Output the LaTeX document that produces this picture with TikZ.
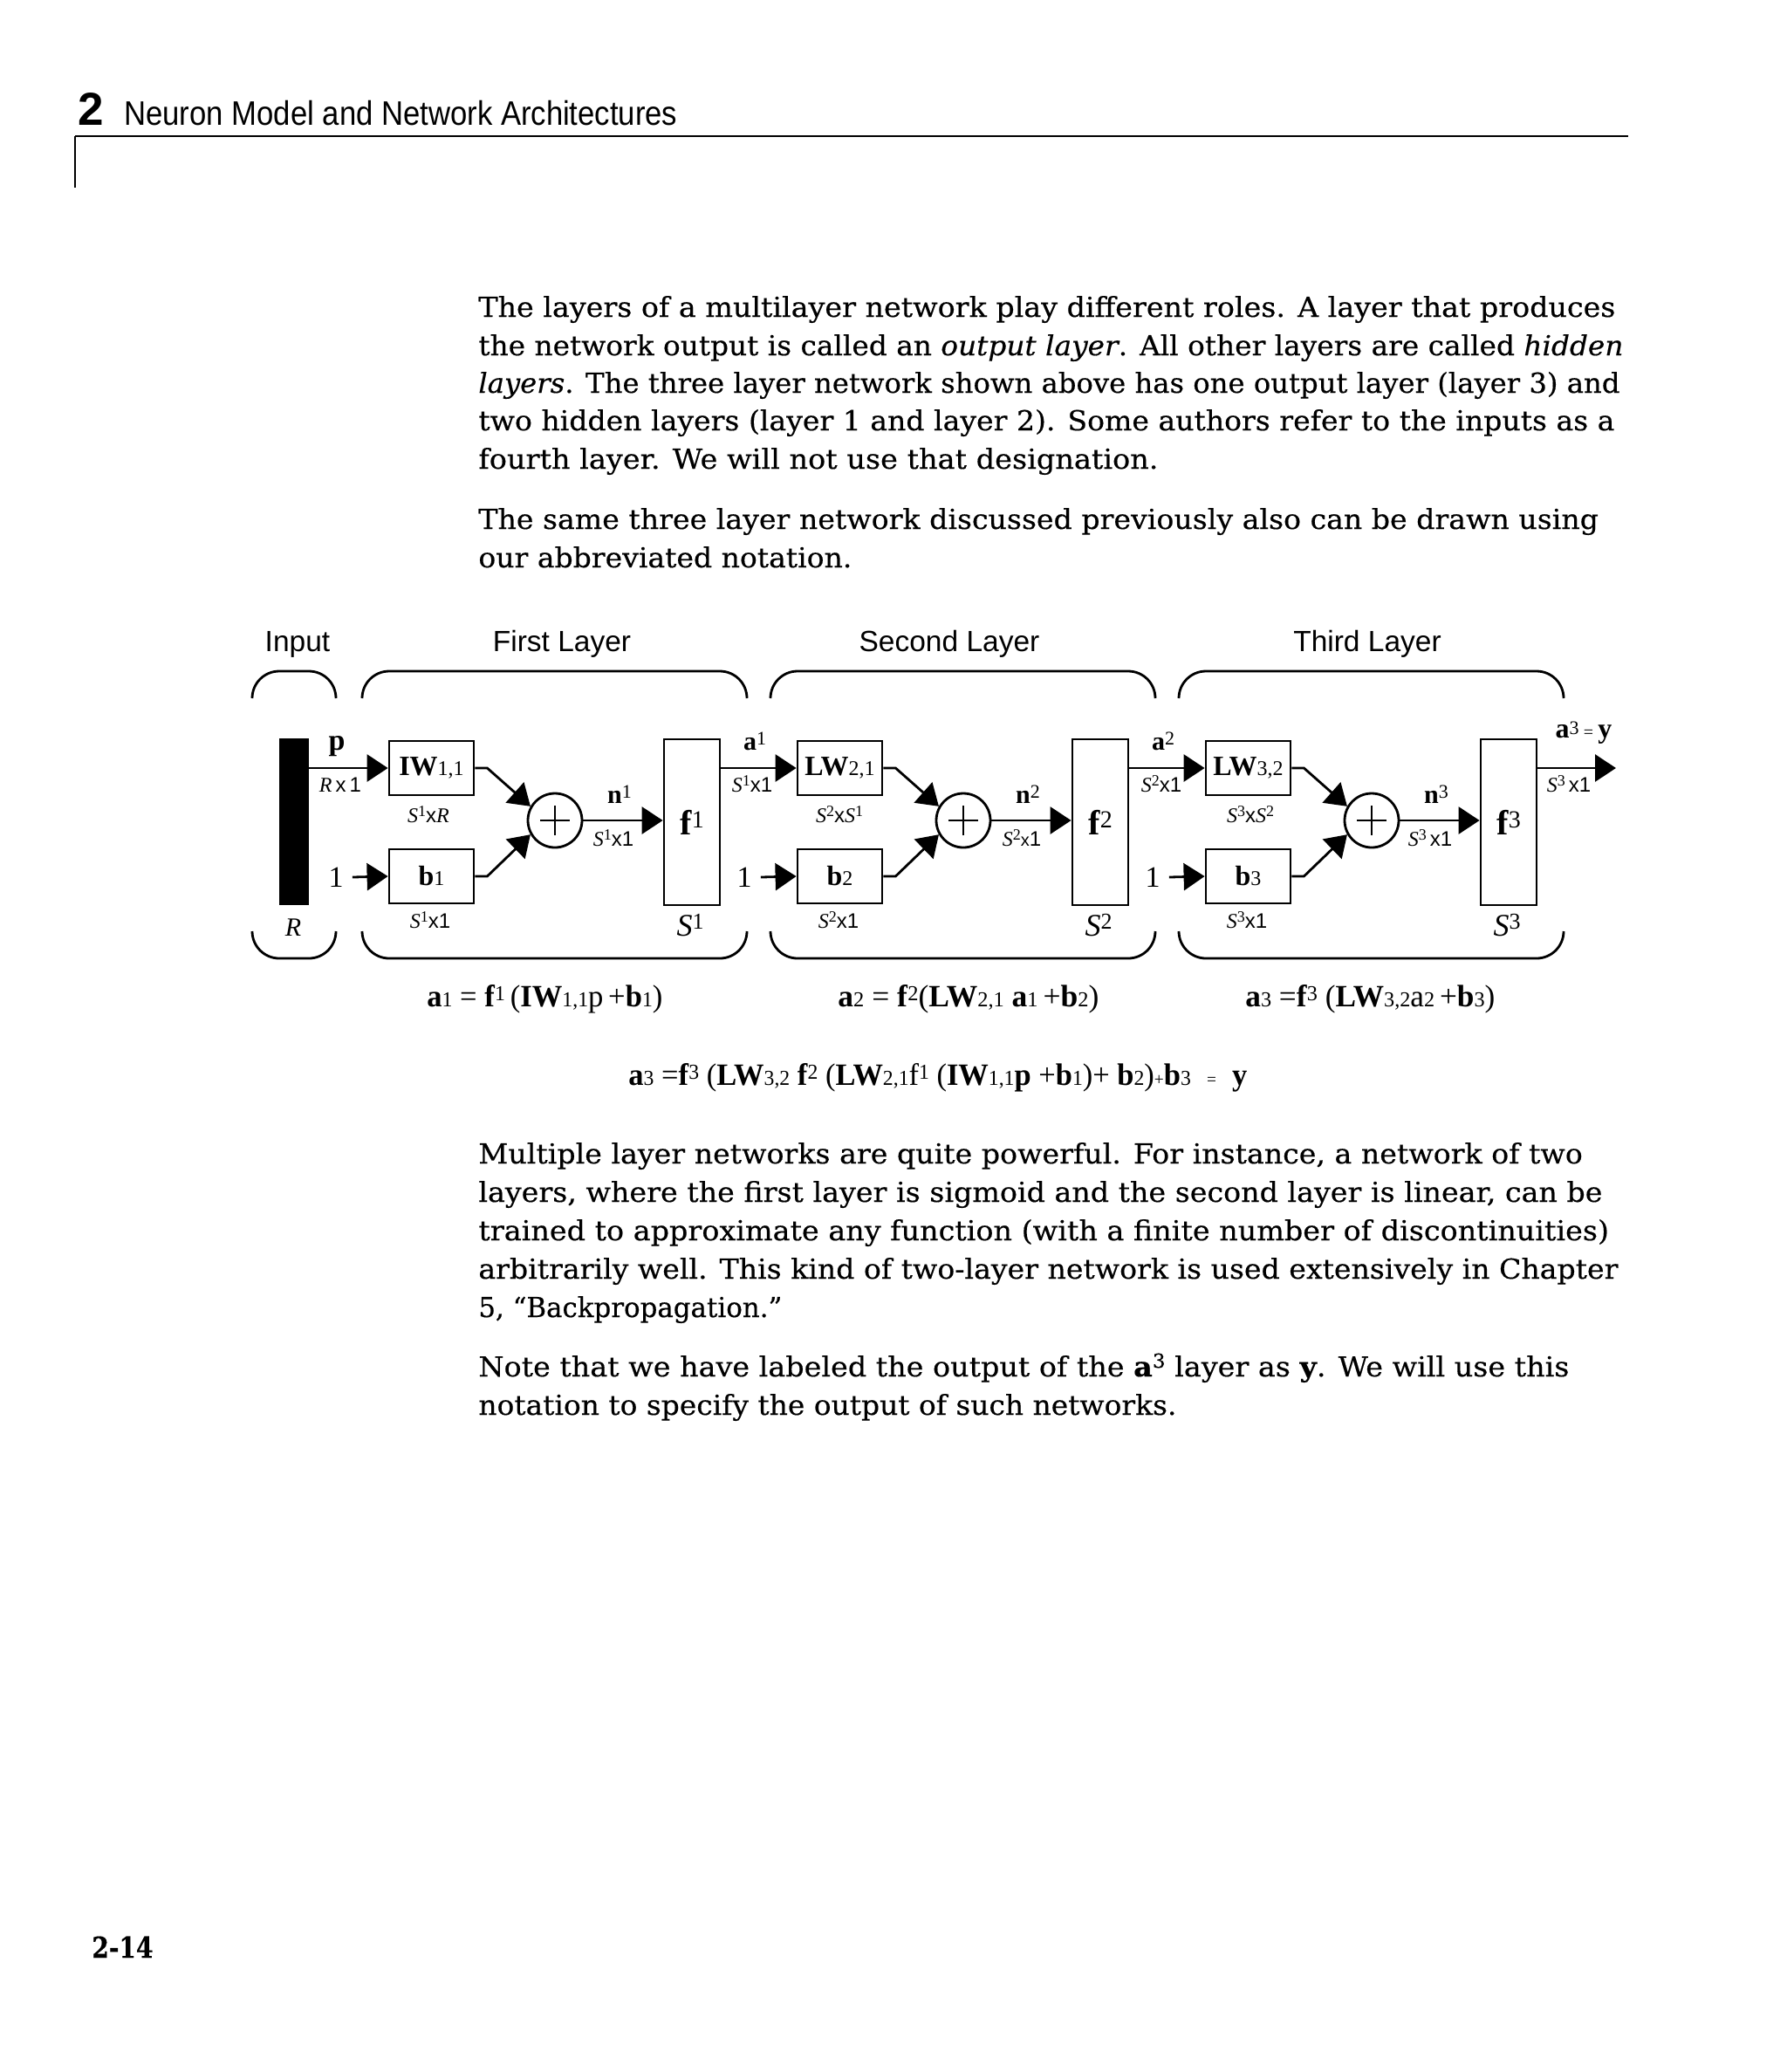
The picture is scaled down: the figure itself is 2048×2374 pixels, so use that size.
\documentclass[tikz,border=0pt]{standalone}
\usepackage{fontspec}
\usepackage{graphicx}
\setmainfont{DejaVu Serif}[FakeStretch=1.05,FakeBold=0.4]
\newfontfamily\arial{Liberation Sans}
\newfontfamily\tms{Liberation Serif}
\usetikzlibrary{arrows.meta}
\newcommand\fsz[1]{\fontsize{#1}{#1}\selectfont}
\newcommand\tb[1]{\textbf{#1}}
\newcommand\sps[1]{\raisebox{3.5pt}{\fsz{9pt}#1}}
\newcommand\ax{{\arial x}}
\newcommand\aone{{\arial 1}}
\newcommand\lw[2]{\resizebox{#1}{\height}{#2}}
\begin{document}
\begin{tikzpicture}[x=0.5pt,y=-0.5pt,
  ln/.style={line width=1.4pt},
  arr/.style={line width=1.4pt,-{Triangle[length=12pt,width=15.5pt]}},
  box/.style={draw,line width=1.4pt,minimum width=48.5pt,minimum height=31pt,inner sep=0pt},
  fbox/.style={draw,line width=1.4pt,minimum width=32pt,minimum height=95pt,inner sep=0pt},
  sumc/.style={draw,circle,line width=1.4pt,minimum size=31pt,inner sep=0pt},
  brk/.style={line width=1.4pt,rounded corners=15.5pt},
  lbl/.style={inner sep=0pt,anchor=base},
  body/.style={inner sep=0pt,anchor=base west,font={\fsz{15.75pt}}},
  ttl/.style={inner sep=0pt,anchor=base,font={\arial\fsz{16.75pt}}},
  dim/.style={inner sep=0pt,anchor=base,font={\tms\fsz{12pt}}},
]
\path[use as bounding box,fill=white] (0,0) rectangle (2048,2374);

% header
\draw[line width=1pt] (86,156) -- (1866,156);
\draw[line width=1pt] (86,156) -- (86,215);
\node[inner sep=0pt,anchor=base west] (chap) at (89,143) {\arial\bfseries\fsz{26.5pt}2};
\node[inner sep=0pt,anchor=base west] (title) at (142,143) {\resizebox{317pt}{\height}{\arial\fsz{19.5pt}Neuron Model and Network Architectures}};

% body text
\node[body] (t1) at (548,363) {\lw{651.5pt}{The layers of a multilayer network play different roles. A layer that produces}};
\node[body] (t2) at (548,407) {\lw{656pt}{the network output is called an \textit{output layer}. All other layers are called \textit{hidden}}};
\node[body] (t3) at (548,450) {\lw{654pt}{\textit{layers}. The three layer network shown above has one output layer (layer 3) and}};
\node[body] (t4) at (548,493) {\lw{651pt}{two hidden layers (layer 1 and layer 2). Some authors refer to the inputs as a}};
\node[body] (t5) at (548,537) {\lw{389.5pt}{fourth layer. We will not use that designation.}};
\node[body] (t6) at (548,606) {\lw{641.8pt}{The same three layer network discussed previously also can be drawn using}};
\node[body] (t7) at (548,650) {\lw{214pt}{our abbreviated notation.}};
\node[body] (t8) at (548,1333) {\lw{632.7pt}{Multiple layer networks are quite powerful. For instance, a network of two}};
\node[body] (t9) at (548,1377) {\lw{644pt}{layers, where the first layer is sigmoid and the second layer is linear, can be}};
\node[body] (t10) at (548,1421) {\lw{647.8pt}{trained to approximate any function (with a finite number of discontinuities)}};
\node[body] (t11) at (548,1465) {\lw{653pt}{arbitrarily well. This kind of two-layer network is used extensively in Chapter}};
\node[body] (t12) at (548,1509) {\lw{174pt}{5, “Backpropagation.”}};
\node[body] (t13) at (548,1577) {\lw{625pt}{Note that we have labeled the output of the \textbf{a}\raisebox{5pt}{\fsz{11pt}3} layer as \textbf{y}. We will use this}};
\node[body] (t14) at (548,1621) {\lw{400pt}{notation to specify the output of such networks.}};

% page number
\node[inner sep=0pt,anchor=base west] (pg) at (105,2243) {\resizebox{35pt}{\height}{\bfseries\fsz{16.5pt}2-14}};

% titles
\node[ttl] (tin) at (341,746) {Input};
\node[ttl] (tl1) at (644,746) {First Layer};
\node[ttl] (tl2) at (1088,746) {Second Layer};
\node[ttl] (tl3) at (1567,746) {Third Layer};

% brackets
\draw[brk] (289,800) -- (289,769) -- (385,769) -- (385,800);
\draw[brk] (289,1067) -- (289,1098) -- (385,1098) -- (385,1067);
\foreach \d in {0,468,936} {
  \draw[brk] (415+\d,800) -- (415+\d,769) -- (856+\d,769) -- (856+\d,800);
  \draw[brk] (415+\d,1067) -- (415+\d,1098) -- (856+\d,1098) -- (856+\d,1067);
}

% input bar
\node[fill=black,minimum width=17pt,minimum height=95.5pt,inner sep=0pt] (bar) at (337,941.5) {};
\node[lbl,font={\tms\fsz{15pt}\itshape}] (rlab) at (336,1072) {R};

% layer 1
\node[box] (w1) at (494.5,880) {\tms\fsz{16pt}\tb{IW}{\fsz{12pt}1,1}};
\node[box] (b1) at (494.5,1004) {\tms\fsz{16pt}\tb{b}{\fsz{12pt}1}};
\node[sumc] (s1) at (636,940) {};
\node[fbox] (f1) at (793,942) {\tms\fsz{20pt}\tb{f}\raisebox{4pt}{\fsz{14pt}1}};
\node[inner sep=5pt,font={\tms\fsz{17pt}}] (one1) at (385,1005) {1};

% layer 2
\node[box] (w2) at (962.5,880) {\tms\fsz{16pt}\tb{LW}{\fsz{12pt}2,1}};
\node[box] (b2) at (962.5,1004) {\tms\fsz{16pt}\tb{b}{\fsz{12pt}2}};
\node[sumc] (s2) at (1104,940) {};
\node[fbox] (f2) at (1261,942) {\tms\fsz{20pt}\tb{f}\raisebox{4pt}{\fsz{14pt}2}};
\node[inner sep=5pt,font={\tms\fsz{17pt}}] (one2) at (853,1005) {1};

% layer 3
\node[box] (w3) at (1430.5,880) {\tms\fsz{16pt}\tb{LW}{\fsz{12pt}3,2}};
\node[box] (b3) at (1430.5,1004) {\tms\fsz{16pt}\tb{b}{\fsz{12pt}3}};
\node[sumc] (s3) at (1572,940) {};
\node[fbox] (f3) at (1729,942) {\tms\fsz{20pt}\tb{f}\raisebox{4pt}{\fsz{14pt}3}};
\node[inner sep=5pt,font={\tms\fsz{17pt}}] (one3) at (1321,1005) {1};
\coordinate (out) at (1852,880);

% plus signs
\foreach \k in {1,2,3} {
  \draw[line width=1.4pt] ([xshift=-8.5pt]s\k.center) -- ([xshift=8.5pt]s\k.center);
  \draw[line width=1.4pt] ([yshift=-8.5pt]s\k.center) -- ([yshift=8.5pt]s\k.center);
}

% connectors
\draw[arr] (bar.east |- w1.west) -- (w1.west);
\draw[arr] (f1.east |- w2.west) -- (w2.west);
\draw[arr] (f2.east |- w3.west) -- (w3.west);
\draw[arr] (f3.east |- out) -- (out);
\foreach \k in {1,2,3} {
  \draw[arr] (one\k.east) -- (b\k.west);
  \draw[arr] (w\k.east) -- ++(14,0) -- (s\k.150);
  \draw[arr] (b\k.east) -- ++(14,0) -- (s\k.210);
  \draw[arr] (s\k.east) -- (f\k.west |- s\k.east);
}

% signal labels
\node[lbl,font={\tms\fsz{17pt}}] (lp) at (386,859) {\tb{p}};
\node[lbl,font={\tms\fsz{15pt}}] (la1) at (865,859) {\tb{a}\raisebox{3pt}{\fsz{11pt}1}};
\node[lbl,font={\tms\fsz{15pt}}] (la2) at (1333,859) {\tb{a}\raisebox{3pt}{\fsz{11pt}2}};
\node[lbl,font={\tms\fsz{16pt}}] (la3) at (1815,845) {\tb{a}\raisebox{2pt}{\fsz{11pt}3}\,{\fsz{10pt}=}\,\tb{y}};
\node[lbl,font={\tms\fsz{15pt}}] (ln1) at (710,920) {\tb{n}\raisebox{3pt}{\fsz{11pt}1}};
\node[lbl,font={\tms\fsz{15pt}}] (ln2) at (1178,920) {\tb{n}\raisebox{3pt}{\fsz{11pt}2}};
\node[lbl,font={\tms\fsz{15pt}}] (ln3) at (1646,920) {\tb{n}\raisebox{3pt}{\fsz{11pt}3}};

% dimension labels
\node[dim] (dp) at (390,907) {\textit{R}\,\ax\,\aone};
\node[dim] (da1) at (862,907) {\textit{S}\sps{1}\ax\aone};
\node[dim] (da2) at (1331,907) {\textit{S}\sps{2}\ax\aone};
\node[dim] (da3) at (1798,907) {\textit{S}\sps{3}\,\ax\aone};
\node[dim] (dw1) at (491,942) {\textit{S}\sps{1}\ax\textit{R}};
\node[dim] (dw2) at (962,942) {\textit{S}\sps{2}\ax\textit{S}\sps{1}};
\node[dim] (dw3) at (1433,942) {\textit{S}\sps{3}\ax\textit{S}\sps{2}};
\node[dim] (db1) at (493,1063) {\textit{S}\sps{1}\ax\aone};
\node[dim] (db2) at (961,1063) {\textit{S}\sps{2}\ax\aone};
\node[dim] (db3) at (1429,1063) {\textit{S}\sps{3}\ax\aone};
\node[dim] (dn1) at (703,969) {\textit{S}\sps{1}\ax\aone};
\node[dim] (dn2) at (1171,969) {\textit{S}\sps{2}{\arial\fsz{10pt}x}\aone};
\node[dim] (dn3) at (1639,969) {\textit{S}\sps{3}\,\ax\aone};
\node[lbl,font={\tms\fsz{18pt}}] (sf1) at (791,1072) {\textit{S}\raisebox{4pt}{\fsz{13pt}1}};
\node[lbl,font={\tms\fsz{18pt}}] (sf2) at (1259,1072) {\textit{S}\raisebox{4pt}{\fsz{13pt}2}};
\node[lbl,font={\tms\fsz{18pt}}] (sf3) at (1727,1072) {\textit{S}\raisebox{4pt}{\fsz{13pt}3}};

% equations
\node[inner sep=0pt,anchor=base west] (eq1) at (489,1153) {\resizebox{135pt}{12.5pt}{\tms\fsz{16pt}\tb{a}{\fsz{11pt}1} = \tb{f}\raisebox{3pt}{\fsz{11pt}1}\,(\tb{IW}{\fsz{11pt}1,1}p\,+\tb{b}{\fsz{11pt}1})}};
\node[inner sep=0pt,anchor=base west] (eq2) at (960,1153) {\resizebox{149.5pt}{12.5pt}{\tms\fsz{16pt}\tb{a}{\fsz{11pt}2} = \tb{f}\raisebox{3pt}{\fsz{11pt}2}(\tb{LW}{\fsz{11pt}2,1} \tb{a}{\fsz{11pt}1}\,+\tb{b}{\fsz{11pt}2})}};
\node[inner sep=0pt,anchor=base west] (eq3) at (1427,1153) {\resizebox{143pt}{12.5pt}{\tms\fsz{16pt}\tb{a}{\fsz{11pt}3} =\tb{f}\raisebox{3pt}{\fsz{11pt}3} (\tb{LW}{\fsz{11pt}3,2}a{\fsz{11pt}2}\,+\tb{b}{\fsz{11pt}3})}};
\node[inner sep=0pt,anchor=base west] (eq4) at (720,1243) {\resizebox{354.5pt}{12.5pt}{\tms\fsz{16pt}\tb{a}{\fsz{11pt}3} =\tb{f}\raisebox{3pt}{\fsz{11pt}3} (\tb{LW}{\fsz{11pt}3,2} \tb{f}\raisebox{3pt}{\fsz{11pt}2} (\tb{LW}{\fsz{11pt}2,1}f\raisebox{3pt}{\fsz{11pt}1} (\tb{IW}{\fsz{11pt}1,1}\tb{p} +\tb{b}{\fsz{11pt}1})+ \tb{b}{\fsz{11pt}2}){\fsz{9pt}+}\tb{b}{\fsz{11pt}3}\; {\fsz{9pt}=}\; \tb{y}}};
\end{tikzpicture}
\end{document}
